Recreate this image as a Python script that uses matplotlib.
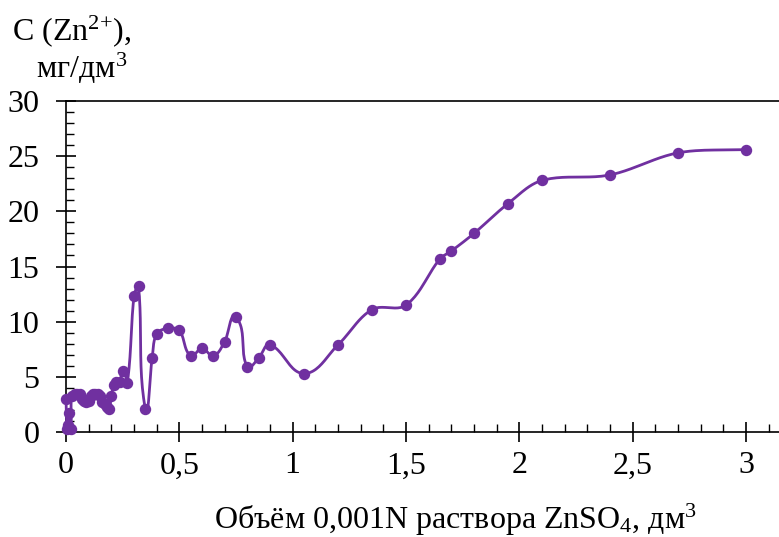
import matplotlib
matplotlib.use('Agg')
import matplotlib.pyplot as plt
from matplotlib.ticker import MultipleLocator, FuncFormatter
import numpy as np

# volume of 0.001N ZnSO4 solution, dm3
volume = [0.0, 0.005, 0.01, 0.015, 0.02, 0.025, 0.04, 0.05, 0.06, 0.07, 0.08, 0.09, 0.10,
          0.11, 0.12, 0.13, 0.14, 0.15, 0.16, 0.17, 0.18, 0.19, 0.20, 0.21, 0.22, 0.24,
          0.25, 0.27, 0.30, 0.32, 0.35, 0.38, 0.40, 0.45, 0.50, 0.55, 0.60, 0.65, 0.70,
          0.75, 0.80, 0.85, 0.90, 1.05, 1.20, 1.35, 1.50, 1.65, 1.70, 1.80, 1.95, 2.10,
          2.40, 2.70, 3.00]
# Zn2+ concentration, mg/dm3
conc = [3.0, 0.3, 0.6, 1.7, 0.3, 3.3, 3.4, 3.4, 3.4, 3.0, 2.8, 2.7, 2.8,
        3.3, 3.4, 3.4, 3.4, 3.3, 2.7, 2.5, 2.3, 2.1, 3.3, 4.3, 4.5, 4.5,
        5.5, 4.4, 12.3, 13.2, 2.1, 6.7, 8.9, 9.4, 9.2, 6.9, 7.6, 6.9, 8.2,
        10.4, 5.9, 6.7, 7.9, 5.3, 7.9, 11.1, 11.5, 15.7, 16.4, 18.0, 20.7, 22.8,
        23.3, 25.3, 25.6]

color = '#7030A0'

plt.rcParams['font.family'] = ['Liberation Serif', 'DejaVu Serif']
plt.rcParams['mathtext.fontset'] = 'custom'
plt.rcParams['mathtext.rm'] = 'Liberation Serif'
plt.rcParams['mathtext.it'] = 'Liberation Serif:italic'


def smooth_line(ax, x, y, steps=24):
    # smoothed line through the points, tangents computed in screen space
    pts = ax.transData.transform(np.column_stack([x, y]))
    n = len(pts)
    tang = []
    for i in range(n):
        d = pts[min(i + 1, n - 1)] - pts[max(i - 1, 0)]
        nd = np.hypot(*d)
        tang.append(d / nd if nd > 0 else np.zeros(2))
    out = []
    t = np.linspace(0, 1, steps)[:, None]
    for i in range(n - 1):
        p1, p2 = pts[i], pts[i + 1]
        L = np.hypot(*(p2 - p1)) / 3.0
        c1 = p1 + tang[i] * L
        c2 = p2 - tang[i + 1] * L
        seg = ((1 - t) ** 3) * p1 + 3 * ((1 - t) ** 2) * t * c1 + 3 * (1 - t) * t ** 2 * c2 + t ** 3 * p2
        out.append(seg if i == 0 else seg[1:])
    out = ax.transData.inverted().transform(np.vstack(out))
    return out[:, 0], out[:, 1]


fig = plt.figure(figsize=(7.79, 5.37), dpi=100)
ax = fig.add_axes([66 / 779, 1 - 432 / 537, 1 - 66 / 779, 331 / 537])
ax.set_xlim(0, 713 / 226.67)
ax.set_ylim(0, 30)

sx, sy = smooth_line(ax, volume, conc)
ax.plot(sx, sy, color=color, lw=2.0, clip_on=False, zorder=3)
ax.plot(volume, conc, 'o', color=color, ms=7.2, clip_on=False, zorder=4)

ax.xaxis.set_major_locator(MultipleLocator(0.5))
ax.xaxis.set_minor_locator(MultipleLocator(0.1))
ax.yaxis.set_major_locator(MultipleLocator(5))
ax.yaxis.set_minor_locator(MultipleLocator(1))
ax.xaxis.set_major_formatter(FuncFormatter(lambda v, p: ('%g' % v).replace('.', ',')))

ax.tick_params(which='major', direction='inout', length=14, width=1.2, labelsize=23, color='black')
ax.tick_params(which='minor', direction='in', length=5.5, width=1.0)
ax.tick_params(axis='x', which='major', pad=7)
ax.tick_params(axis='y', which='major', pad=12)

ax.spines['right'].set_visible(False)
for s in ['left', 'bottom', 'top']:
    ax.spines[s].set_linewidth(1.2)

fig.text(12 / 779, 1 - 31 / 537, 'C (Zn$^{\\mathregular{2{+}}}$),', fontsize=23, va='center', ha='left')
fig.text(36 / 779, 1 - 68 / 537, 'мг/дм$^{\\mathregular{3}}$', fontsize=23, va='center', ha='left')
fig.text(455 / 779, 1 - 520 / 537, 'Объём 0,001N раствора ZnSO$_{\\mathregular{4}}$, дм$^{\\mathregular{3}}$',
         fontsize=23, va='center', ha='center')

plt.savefig('out.png', dpi=100)
plt.close(fig)
